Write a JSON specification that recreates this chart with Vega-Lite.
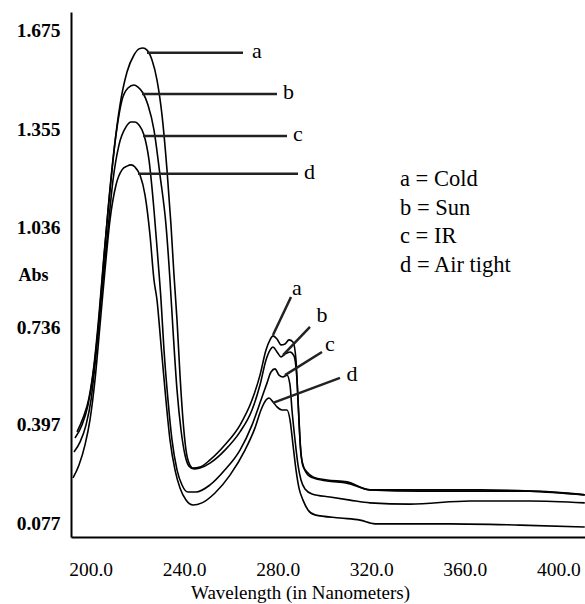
{
  "$schema": "https://vega.github.io/schema/vega-lite/v6.json",
  "width": 514,
  "height": 525,
  "autosize": "none",
  "padding": {"left": 71, "top": 12, "right": 0, "bottom": 67},
  "background": "white",
  "config": {"view": {"stroke": null}, "font": "Liberation Serif"},
  "datasets": {
    "curves": [
      {"s":"a","wl":193.31,"abs":0.354},{"s":"a","wl":196.30,"abs":0.396},{"s":"a","wl":198.87,"abs":0.461},{"s":"a","wl":201.01,"abs":0.558},{"s":"a","wl":203.15,"abs":0.704},{"s":"a","wl":205.28,"abs":0.899},{"s":"a","wl":207.42,"abs":1.093},{"s":"a","wl":209.99,"abs":1.287},{"s":"a","wl":212.55,"abs":1.433},{"s":"a","wl":215.55,"abs":1.540},{"s":"a","wl":218.54,"abs":1.595},{"s":"a","wl":220.68,"abs":1.615},{"s":"a","wl":222.39,"abs":1.618},{"s":"a","wl":224.10,"abs":1.611},{"s":"a","wl":226.24,"abs":1.579},{"s":"a","wl":228.38,"abs":1.514},{"s":"a","wl":230.51,"abs":1.401},{"s":"a","wl":232.65,"abs":1.223},{"s":"a","wl":234.36,"abs":1.044},{"s":"a","wl":235.64,"abs":0.882},{"s":"a","wl":236.93,"abs":0.737},{"s":"a","wl":238.21,"abs":0.558},{"s":"a","wl":239.49,"abs":0.413},{"s":"a","wl":240.78,"abs":0.315},{"s":"a","wl":242.06,"abs":0.273},{"s":"a","wl":243.77,"abs":0.257},{"s":"a","wl":246.76,"abs":0.260},{"s":"a","wl":251.04,"abs":0.283},{"s":"a","wl":257.45,"abs":0.332},{"s":"a","wl":263.87,"abs":0.396},{"s":"a","wl":269.00,"abs":0.477},{"s":"a","wl":272.42,"abs":0.558},{"s":"a","wl":274.99,"abs":0.639},{"s":"a","wl":276.70,"abs":0.672},{"s":"a","wl":277.98,"abs":0.685},{"s":"a","wl":279.69,"abs":0.675},{"s":"a","wl":281.40,"abs":0.656},{"s":"a","wl":283.11,"abs":0.659},{"s":"a","wl":284.82,"abs":0.672},{"s":"a","wl":286.53,"abs":0.665},{"s":"a","wl":287.81,"abs":0.607},{"s":"a","wl":288.67,"abs":0.477},{"s":"a","wl":289.53,"abs":0.348},{"s":"a","wl":290.81,"abs":0.263},{"s":"a","wl":292.52,"abs":0.244},{"s":"a","wl":295.08,"abs":0.228},{"s":"a","wl":301.07,"abs":0.218},{"s":"a","wl":309.62,"abs":0.212},{"s":"a","wl":319.46,"abs":0.186},{"s":"a","wl":340.84,"abs":0.186},{"s":"a","wl":366.50,"abs":0.186},{"s":"a","wl":387.88,"abs":0.182},{"s":"a","wl":411.3,"abs":0.170},
      {"s":"b","wl":194.17,"abs":0.374},{"s":"b","wl":196.73,"abs":0.419},{"s":"b","wl":199.30,"abs":0.484},{"s":"b","wl":201.44,"abs":0.591},{"s":"b","wl":203.57,"abs":0.753},{"s":"b","wl":205.71,"abs":0.947},{"s":"b","wl":208.28,"abs":1.158},{"s":"b","wl":210.84,"abs":1.336},{"s":"b","wl":213.41,"abs":1.449},{"s":"b","wl":215.97,"abs":1.488},{"s":"b","wl":218.54,"abs":1.498},{"s":"b","wl":220.25,"abs":1.491},{"s":"b","wl":222.39,"abs":1.472},{"s":"b","wl":224.53,"abs":1.433},{"s":"b","wl":227.09,"abs":1.352},{"s":"b","wl":229.66,"abs":1.206},{"s":"b","wl":232.22,"abs":1.044},{"s":"b","wl":233.93,"abs":0.866},{"s":"b","wl":235.22,"abs":0.704},{"s":"b","wl":236.93,"abs":0.510},{"s":"b","wl":238.64,"abs":0.380},{"s":"b","wl":240.35,"abs":0.299},{"s":"b","wl":242.06,"abs":0.263},{"s":"b","wl":244.20,"abs":0.254},{"s":"b","wl":246.76,"abs":0.257},{"s":"b","wl":251.04,"abs":0.273},{"s":"b","wl":257.45,"abs":0.315},{"s":"b","wl":263.87,"abs":0.374},{"s":"b","wl":269.00,"abs":0.445},{"s":"b","wl":272.42,"abs":0.526},{"s":"b","wl":274.99,"abs":0.607},{"s":"b","wl":276.70,"abs":0.639},{"s":"b","wl":277.98,"abs":0.649},{"s":"b","wl":279.69,"abs":0.633},{"s":"b","wl":281.40,"abs":0.617},{"s":"b","wl":283.11,"abs":0.626},{"s":"b","wl":285.25,"abs":0.633},{"s":"b","wl":286.96,"abs":0.620},{"s":"b","wl":288.24,"abs":0.542},{"s":"b","wl":289.10,"abs":0.413},{"s":"b","wl":289.95,"abs":0.299},{"s":"b","wl":291.24,"abs":0.257},{"s":"b","wl":292.95,"abs":0.234},{"s":"b","wl":295.08,"abs":0.225},{"s":"b","wl":301.07,"abs":0.215},{"s":"b","wl":309.62,"abs":0.208},{"s":"b","wl":319.46,"abs":0.186},{"s":"b","wl":340.84,"abs":0.182},{"s":"b","wl":366.50,"abs":0.182},{"s":"b","wl":387.88,"abs":0.182},{"s":"b","wl":411.3,"abs":0.170},
      {"s":"c","wl":192.88,"abs":0.309},{"s":"c","wl":195.45,"abs":0.341},{"s":"c","wl":198.01,"abs":0.396},{"s":"c","wl":200.15,"abs":0.477},{"s":"c","wl":202.29,"abs":0.623},{"s":"c","wl":204.43,"abs":0.801},{"s":"c","wl":206.99,"abs":0.996},{"s":"c","wl":209.56,"abs":1.190},{"s":"c","wl":212.13,"abs":1.304},{"s":"c","wl":215.12,"abs":1.362},{"s":"c","wl":217.26,"abs":1.378},{"s":"c","wl":218.97,"abs":1.378},{"s":"c","wl":220.68,"abs":1.368},{"s":"c","wl":222.82,"abs":1.336},{"s":"c","wl":224.95,"abs":1.255},{"s":"c","wl":227.09,"abs":1.093},{"s":"c","wl":228.80,"abs":0.931},{"s":"c","wl":230.09,"abs":0.801},{"s":"c","wl":231.37,"abs":0.639},{"s":"c","wl":233.08,"abs":0.477},{"s":"c","wl":234.79,"abs":0.348},{"s":"c","wl":236.93,"abs":0.251},{"s":"c","wl":239.07,"abs":0.202},{"s":"c","wl":241.63,"abs":0.179},{"s":"c","wl":245.05,"abs":0.179},{"s":"c","wl":251.04,"abs":0.202},{"s":"c","wl":257.45,"abs":0.251},{"s":"c","wl":263.87,"abs":0.315},{"s":"c","wl":269.00,"abs":0.396},{"s":"c","wl":272.85,"abs":0.477},{"s":"c","wl":275.41,"abs":0.532},{"s":"c","wl":277.12,"abs":0.568},{"s":"c","wl":278.83,"abs":0.578},{"s":"c","wl":280.54,"abs":0.558},{"s":"c","wl":282.26,"abs":0.552},{"s":"c","wl":283.97,"abs":0.558},{"s":"c","wl":285.25,"abs":0.526},{"s":"c","wl":286.10,"abs":0.445},{"s":"c","wl":287.39,"abs":0.348},{"s":"c","wl":288.67,"abs":0.267},{"s":"c","wl":289.95,"abs":0.218},{"s":"c","wl":291.66,"abs":0.189},{"s":"c","wl":294.66,"abs":0.173},{"s":"c","wl":302.35,"abs":0.163},{"s":"c","wl":310.91,"abs":0.153},{"s":"c","wl":319.46,"abs":0.144},{"s":"c","wl":336.56,"abs":0.140},{"s":"c","wl":362.22,"abs":0.150},{"s":"c","wl":387.88,"abs":0.150},{"s":"c","wl":411.3,"abs":0.144},
      {"s":"d","wl":192.46,"abs":0.225},{"s":"d","wl":195.02,"abs":0.267},{"s":"d","wl":197.59,"abs":0.332},{"s":"d","wl":199.72,"abs":0.413},{"s":"d","wl":201.86,"abs":0.542},{"s":"d","wl":204.00,"abs":0.720},{"s":"d","wl":206.14,"abs":0.899},{"s":"d","wl":208.28,"abs":1.061},{"s":"d","wl":210.84,"abs":1.174},{"s":"d","wl":213.41,"abs":1.223},{"s":"d","wl":215.55,"abs":1.235},{"s":"d","wl":217.26,"abs":1.239},{"s":"d","wl":218.97,"abs":1.232},{"s":"d","wl":221.11,"abs":1.206},{"s":"d","wl":223.24,"abs":1.142},{"s":"d","wl":225.38,"abs":1.012},{"s":"d","wl":227.09,"abs":0.866},{"s":"d","wl":228.38,"abs":0.801},{"s":"d","wl":230.09,"abs":0.656},{"s":"d","wl":231.80,"abs":0.510},{"s":"d","wl":233.93,"abs":0.348},{"s":"d","wl":236.07,"abs":0.251},{"s":"d","wl":238.21,"abs":0.192},{"s":"d","wl":240.78,"abs":0.153},{"s":"d","wl":243.77,"abs":0.137},{"s":"d","wl":247.62,"abs":0.144},{"s":"d","wl":253.18,"abs":0.176},{"s":"d","wl":259.59,"abs":0.234},{"s":"d","wl":266.01,"abs":0.315},{"s":"d","wl":270.28,"abs":0.387},{"s":"d","wl":272.85,"abs":0.445},{"s":"d","wl":274.99,"abs":0.477},{"s":"d","wl":276.27,"abs":0.484},{"s":"d","wl":277.98,"abs":0.471},{"s":"d","wl":279.69,"abs":0.455},{"s":"d","wl":281.83,"abs":0.445},{"s":"d","wl":283.97,"abs":0.445},{"s":"d","wl":285.25,"abs":0.413},{"s":"d","wl":286.53,"abs":0.332},{"s":"d","wl":287.81,"abs":0.251},{"s":"d","wl":289.10,"abs":0.192},{"s":"d","wl":290.81,"abs":0.153},{"s":"d","wl":292.95,"abs":0.121},{"s":"d","wl":295.94,"abs":0.105},{"s":"d","wl":306.63,"abs":0.095},{"s":"d","wl":315.18,"abs":0.088},{"s":"d","wl":321.60,"abs":0.076},{"s":"d","wl":353.67,"abs":0.076},{"s":"d","wl":383.60,"abs":0.072},{"s":"d","wl":411.3,"abs":0.066}
    ],
    "leaders": [
      {"x1":224.10,"y1":1.602,"x2":265.15,"y2":1.602},
      {"x1":221.96,"y1":1.469,"x2":279.69,"y2":1.469},
      {"x1":222.39,"y1":1.333,"x2":283.97,"y2":1.333},
      {"x1":220.25,"y1":1.210,"x2":288.67,"y2":1.210},
      {"x1":277.98,"y1":0.688,"x2":285.68,"y2":0.811},
      {"x1":282.26,"y1":0.623,"x2":293.80,"y2":0.714},
      {"x1":283.11,"y1":0.558,"x2":298.93,"y2":0.633},
      {"x1":277.98,"y1":0.468,"x2":306.63,"y2":0.549}
    ],
    "peakLabels": [
      {"x":269.00,"y":1.602,"t":"a"},
      {"x":282.26,"y":1.469,"t":"b"},
      {"x":286.53,"y":1.333,"t":"c"},
      {"x":291.24,"y":1.210,"t":"d"}
    ],
    "shoulderLabels": [
      {"x":288.24,"y":0.834,"t":"a"},
      {"x":298.93,"y":0.746,"t":"b"},
      {"x":302.35,"y":0.652,"t":"c"},
      {"x":311.76,"y":0.555,"t":"d"}
    ],
    "key": [
      {"x":332.29,"y":1.171,"t":"a = Cold"},
      {"x":332.29,"y":1.077,"t":"b = Sun"},
      {"x":332.29,"y":0.986,"t":"c = IR"},
      {"x":332.29,"y":0.892,"t":"d = Air tight"}
    ]
  },
  "layer": [
    {
      "data": {"name": "curves"},
      "mark": {"type": "line", "interpolate": "monotone", "color": "black", "strokeWidth": 1.6},
      "encoding": {
        "x": {
          "field": "wl", "type": "quantitative",
          "scale": {"domain": [191.6, 411.4], "nice": false, "zero": false},
          "axis": {
            "values": [200, 240, 280, 320, 360, 400],
            "format": ".1f",
            "grid": false, "ticks": false,
            "domainColor": "black", "domainWidth": 2,
            "labelFont": "Liberation Serif", "labelFontSize": 19.5, "labelColor": "black",
            "labelBaseline": "alphabetic", "labelPadding": 38,
            "title": "Wavelength (in Nanometers)",
            "titleFont": "Liberation Serif", "titleFontSize": 19, "titleFontWeight": "normal", "titleColor": "black",
            "titleX": 229, "titleY": 61, "titleAlign": "center", "titleBaseline": "alphabetic"
          }
        },
        "y": {
          "field": "abs", "type": "quantitative",
          "scale": {"domain": [0.0334, 1.7344], "nice": false, "zero": false},
          "axis": {
            "values": [0.077, 0.397, 0.736, 1.036, 1.355, 1.675],
            "format": ".3f",
            "grid": false, "ticks": false,
            "domainColor": "black", "domainWidth": 2,
            "labelFont": "Liberation Serif", "labelFontSize": 19.5, "labelFontWeight": "bold", "labelColor": "black",
            "labelPadding": 11,
            "labelOffset": {"condition": {"test": "datum.value === 0.736", "value": 7}, "value": 0},
            "title": "Abs",
            "titleFont": "Liberation Serif", "titleFontSize": 18, "titleFontWeight": "bold", "titleColor": "black",
            "titleAngle": 0, "titleX": -38, "titleY": 268, "titleAlign": "center", "titleBaseline": "alphabetic"
          }
        },
        "detail": {"field": "s"}
      }
    },
    {
      "data": {"name": "leaders"},
      "mark": {"type": "rule", "color": "#222", "strokeWidth": 2.5},
      "encoding": {
        "x": {"field": "x1", "type": "quantitative"},
        "y": {"field": "y1", "type": "quantitative"},
        "x2": {"field": "x2"},
        "y2": {"field": "y2"}
      }
    },
    {
      "data": {"name": "peakLabels"},
      "mark": {"type": "text", "align": "left", "baseline": "middle", "font": "Liberation Serif", "fontSize": 22, "color": "black", "dy": -2},
      "encoding": {
        "x": {"field": "x", "type": "quantitative"},
        "y": {"field": "y", "type": "quantitative"},
        "text": {"field": "t"}
      }
    },
    {
      "data": {"name": "shoulderLabels"},
      "mark": {"type": "text", "align": "center", "baseline": "middle", "font": "Liberation Serif", "fontSize": 22, "color": "black", "dy": -2},
      "encoding": {
        "x": {"field": "x", "type": "quantitative"},
        "y": {"field": "y", "type": "quantitative"},
        "text": {"field": "t"}
      }
    },
    {
      "data": {"name": "key"},
      "mark": {"type": "text", "align": "left", "baseline": "alphabetic", "font": "Liberation Serif", "fontSize": 22.5, "color": "black"},
      "encoding": {
        "x": {"field": "x", "type": "quantitative"},
        "y": {"field": "y", "type": "quantitative"},
        "text": {"field": "t"}
      }
    }
  ]
}
